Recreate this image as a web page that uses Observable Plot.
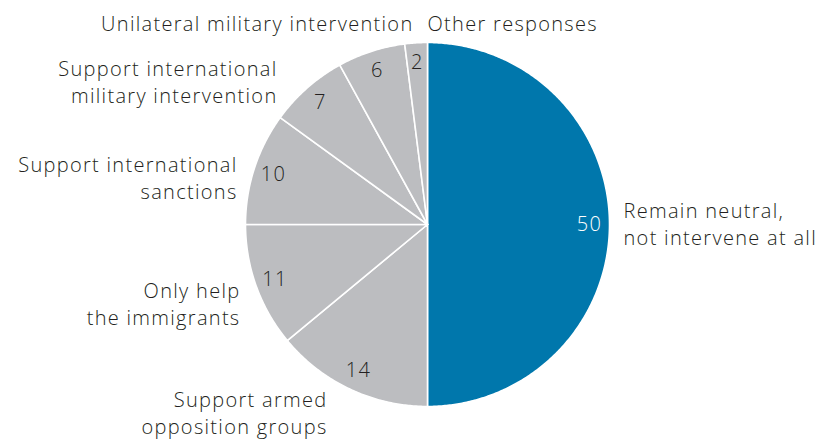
<!DOCTYPE html>
<html><head><meta charset="utf-8">
<script src="https://cdn.jsdelivr.net/npm/d3@7"></script>
<script src="https://cdn.jsdelivr.net/npm/@observablehq/plot@0.6"></script>
<style>
  html, body { margin: 0; padding: 0; background: #fff; }
  #chart svg { display: block; }
</style>
</head><body>
<div id="chart"></div>
<script>
// ---- Data ----
const categories = [
  "Remain neutral,\nnot intervene at all",
  "Support armed\nopposition groups",
  "Only help\nthe immigrants",
  "Support international\nsanctions",
  "Support international\nmilitary intervention",
  "Unilateral military intervention",
  "Other responses"
];
const values = [50, 14, 11, 10, 7, 6, 2];
const highlighted = ["Remain neutral,\nnot intervene at all"];

// ---- Layout / style (not data) ----
const W = 832, H = 439;
const CX = 427, CY = 224, R = 182, R_NUM = 162;
const BLUE = "#0077ac", GREY = "#bcbdc0", INK = "#231f20";
const FONT = "Open Sans, Liberation Sans, sans-serif";
// outside label placement: [x, y (block middle), textAnchor]
const labelLayout = [
  [623, 222, "start"],
  [327, 411, "end"],
  [240, 302, "end"],
  [237, 176, "end"],
  [277, 80, "end"],
  [413, 22, "end"],
  [427, 22, "start"]
];

// ---- Build slices with d3.pie ----
const table = categories.map((c, i) => ({category: c, value: values[i], hi: highlighted.includes(c)}));
const arcs = d3.pie().value(d => d.value).sort(null)(table);
const px = (a, r) => CX + r * Math.sin(a);
const py = (a, r) => CY - r * Math.cos(a);

const polys = [];
arcs.forEach((a, i) => {
  const n = Math.max(2, Math.ceil((a.endAngle - a.startAngle) / (Math.PI / 360)));
  polys.push({k: i, x: CX, y: CY, hi: a.data.hi});
  for (let j = 0; j <= n; j++) {
    const t = a.startAngle + (a.endAngle - a.startAngle) * j / n;
    polys.push({k: i, x: px(t, R), y: py(t, R), hi: a.data.hi});
  }
  polys.push({k: i, x: CX, y: CY, hi: a.data.hi});
});

const nums = arcs.map(a => {
  const m = (a.startAngle + a.endAngle) / 2;
  return {x: px(m, R_NUM), y: py(m, R_NUM), text: String(a.data.value), hi: a.data.hi};
});
const labels = arcs.map((a, i) => ({
  x: labelLayout[i][0], y: labelLayout[i][1], anchor: labelLayout[i][2], text: a.data.category
}));

const chart = Plot.plot({
  width: W, height: H,
  margin: 0,
  x: {domain: [0, W], range: [0, W], axis: null},
  y: {domain: [0, H], range: [0, H], axis: null},
  style: {fontFamily: FONT, background: "#fff", letterSpacing: "1.3px", overflow: "visible"},
  marks: [
    Plot.line(polys, {x: "x", y: "y", z: "k", fill: d => d.hi ? BLUE : GREY,
      stroke: "white", strokeWidth: 1.6, strokeLinejoin: "round", curve: "linear"}),
    Plot.text(nums, {x: "x", y: "y", text: "text", fill: d => d.hi ? "white" : INK,
      fontSize: 20, fontWeight: 300}),
    Plot.text(labels.filter(d => d.anchor === "start"), {x: "x", y: "y", text: "text", textAnchor: "start",
      fill: INK, fontSize: 20, fontWeight: 300, lineHeight: 1.37}),
    Plot.text(labels.filter(d => d.anchor === "end"), {x: "x", y: "y", text: "text", textAnchor: "end",
      fill: INK, fontSize: 20, fontWeight: 300, lineHeight: 1.37})
  ]
});
document.getElementById("chart").appendChild(chart);
</script>
</body></html>
